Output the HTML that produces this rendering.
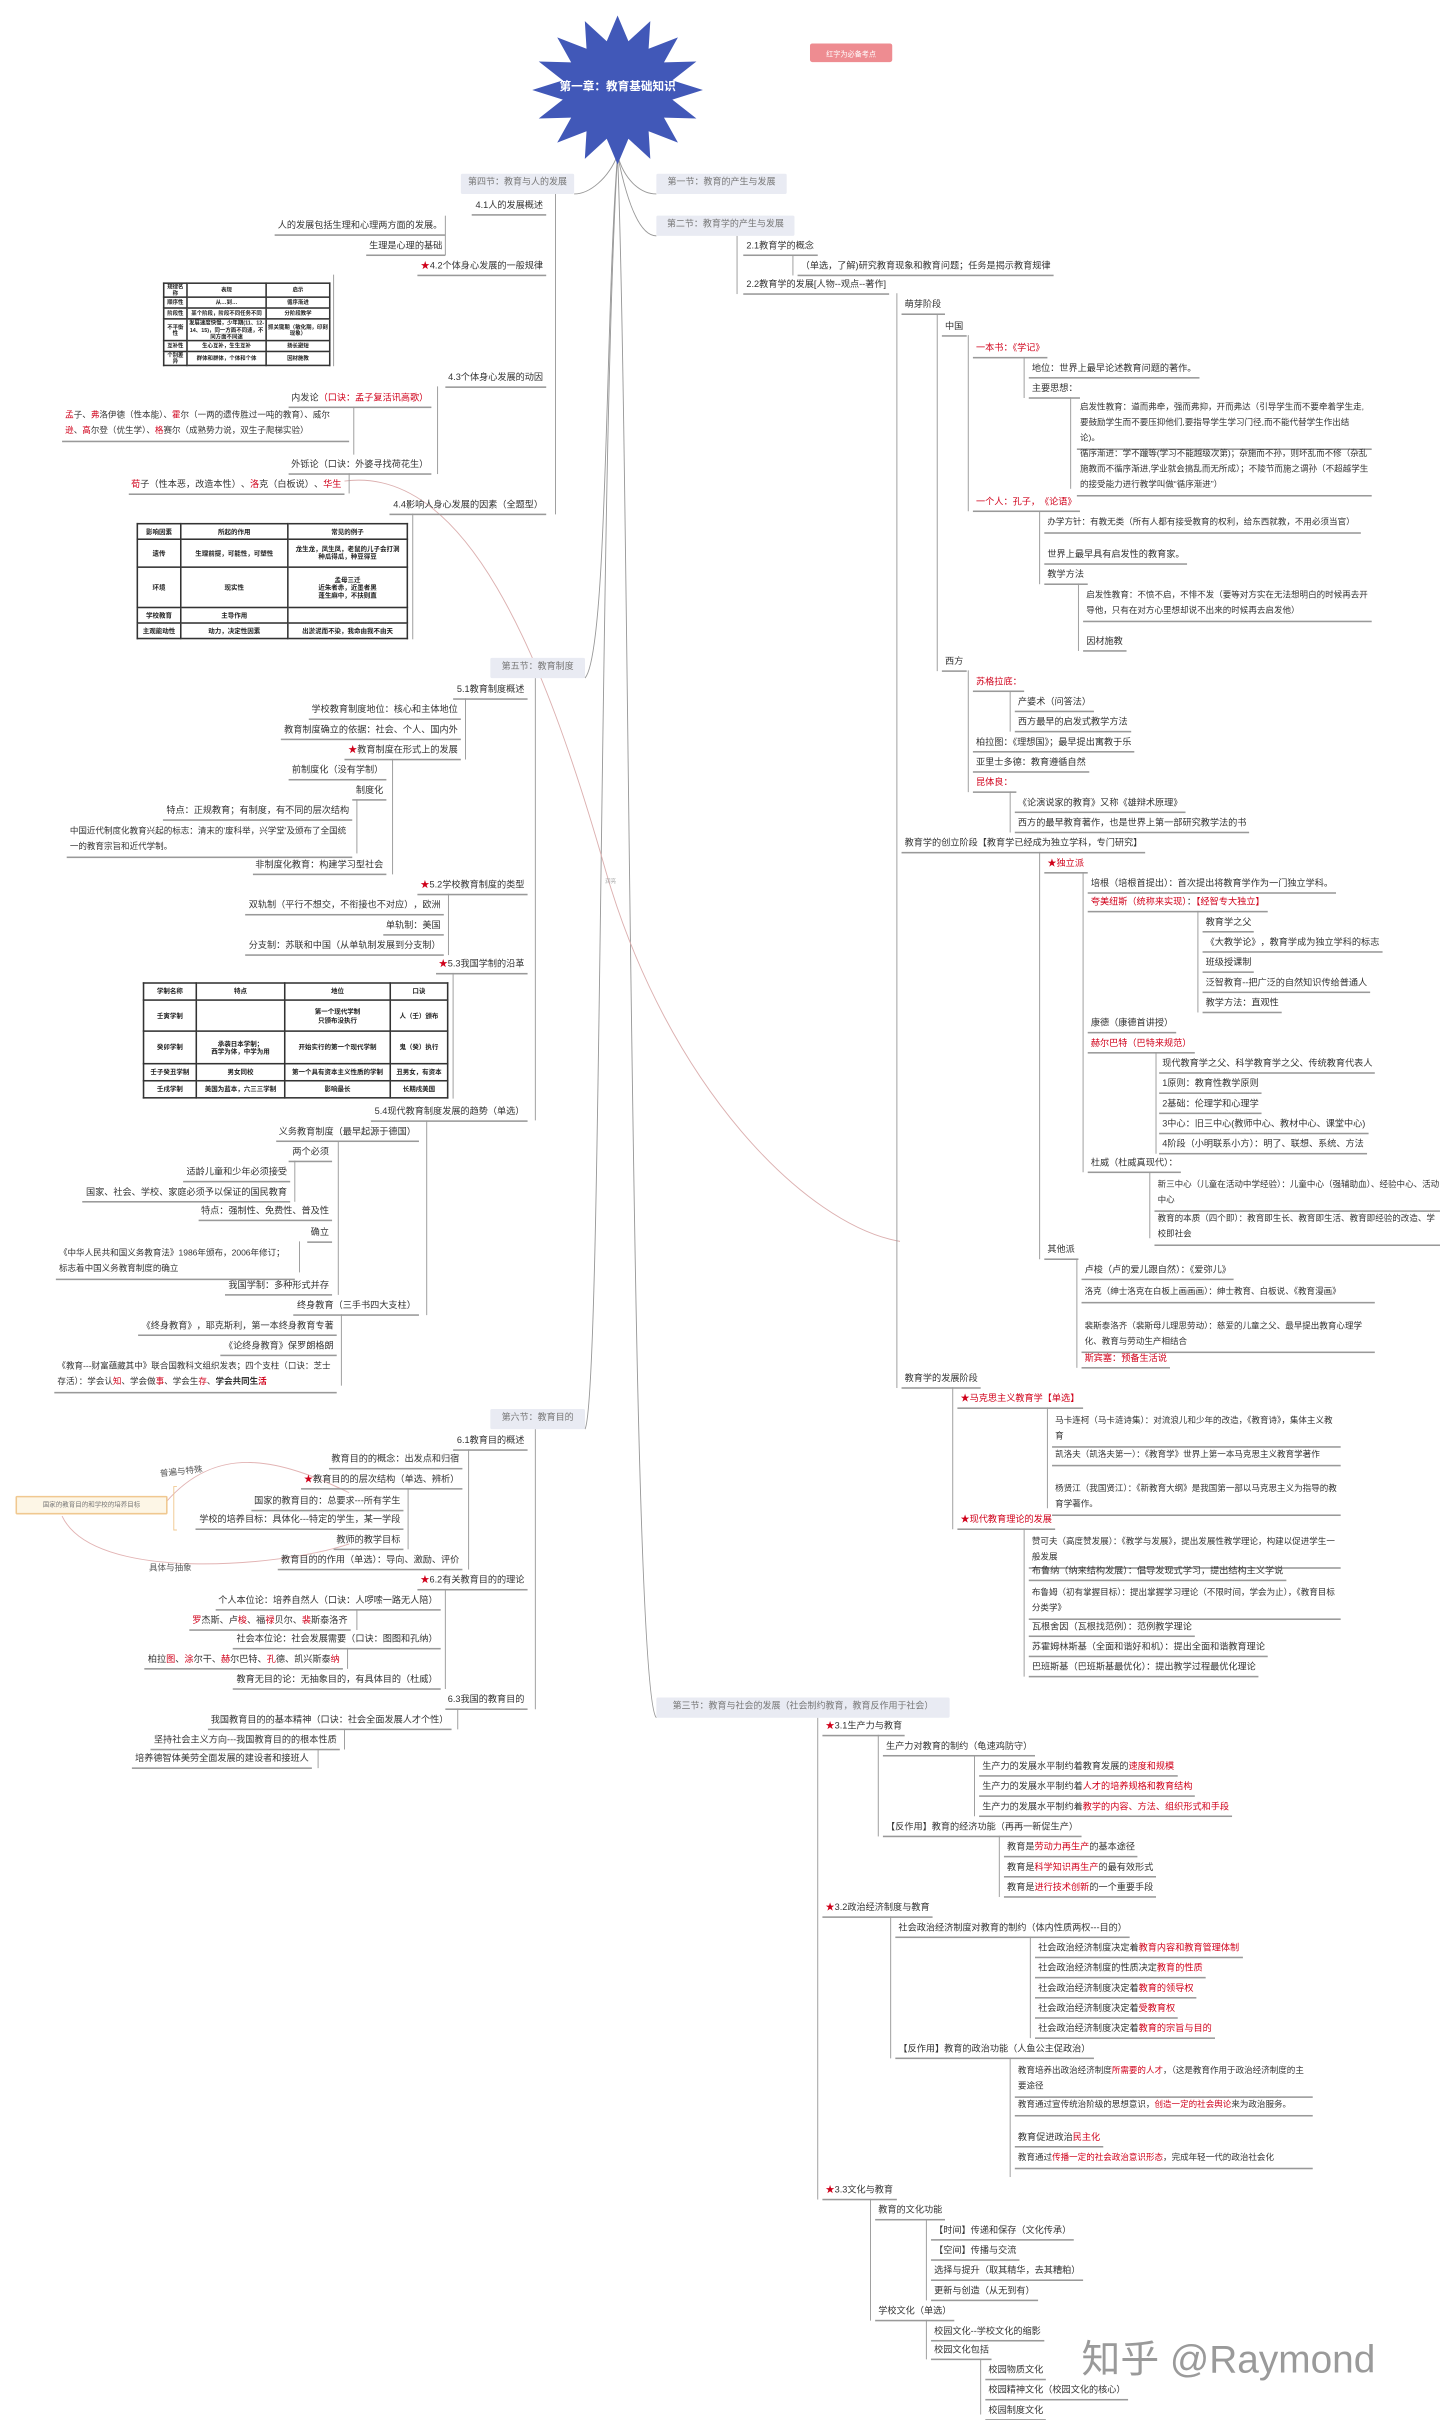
<!DOCTYPE html>
<html><head><meta charset="utf-8">
<style>
html,body{margin:0;padding:0;background:#fff;}
body{width:1440px;height:2414px;overflow:hidden;position:relative;}
#w{position:absolute;left:0;top:0;width:928px;height:1556px;transform:scale(1.5517);transform-origin:0 0;font-family:"Liberation Sans","Noto Sans CJK SC",sans-serif;color:#333;}
.n{position:absolute;white-space:nowrap;font-size:5.9px;line-height:8px;border-bottom:0.6px solid #999;padding:0 2px 0.5px 2px;}
.m{white-space:normal;line-height:10px;font-size:5.5px;}
.r{color:#d0021b;}
.s{color:#d0021b;}
.sec{position:absolute;background:#e9ebf3;color:#777;font-size:5.8px;line-height:13px;height:13px;text-align:center;border-radius:1px;}
table{position:absolute;border-collapse:collapse;font-size:4.2px;line-height:5.4px;color:#222;font-weight:bold;table-layout:fixed;}
td{border:0.6px solid #333;text-align:center;padding:0 1px;overflow:hidden;}
.t1{font-size:3.5px;line-height:4.2px;}
.t1 td{padding:0 0.5px;}
svg{position:absolute;left:0;top:0;}
</style></head><body><div id="w">
<svg width="928" height="1556" viewBox="0 0 928 1556">
<g fill="none" stroke="#999" stroke-width="0.6">
<path d="M398 100 C392 115 380 125 370 125"/>
<path d="M398 100 C402 115 412 125 423 125"/>
<path d="M398 100 C404 130 412 152 423 152"/>
<path d="M398 100 C390 200 392 420 377 437"/>
<path d="M398 100 C386 300 388 900 377 921"/>
<path d="M398 100 C406 300 406 1090 423 1107"/>
<path d="M222 310 C300 300 350 420 390 560 S 520 790 580 800" stroke="#dcb0b0"/>
<path d="M107 968 C140 930 180 940 225 962" stroke="#e2b3b3"/>
<path d="M40 977 C60 1020 180 1010 225 995" stroke="#e2b3b3"/>
<path d="M114 958 L112 958 L112 986 L114 986" stroke="#f0c890"/>
</g>
<g stroke="#999" stroke-width="0.6">
<line x1="358" y1="125" x2="358" y2="331.5"/><line x1="287" y1="139" x2="287" y2="164.5"/><line x1="215" y1="177" x2="215" y2="236"/><line x1="282" y1="249" x2="282" y2="305.5"/><line x1="228" y1="262" x2="228" y2="293"/><line x1="225" y1="305" x2="225" y2="318"/><line x1="266" y1="331" x2="266" y2="412"/>
<line x1="345" y1="437" x2="345" y2="722"/><line x1="300" y1="450" x2="300" y2="489.5"/><line x1="253" y1="489" x2="253" y2="563.5"/><line x1="230" y1="515" x2="230" y2="550"/><line x1="289" y1="576" x2="289" y2="615.5"/><line x1="292" y1="627" x2="292" y2="708"/><line x1="275" y1="722" x2="275" y2="847.5"/><line x1="218" y1="735" x2="218" y2="834.5"/><line x1="190" y1="748" x2="190" y2="774.5"/><line x1="193" y1="800" x2="193" y2="820"/><line x1="220" y1="847" x2="220" y2="893"/>
<line x1="345" y1="921" x2="345" y2="1101.5"/><line x1="302" y1="934" x2="302" y2="1011.5"/><line x1="263" y1="959" x2="263" y2="998.5"/><line x1="287" y1="1024" x2="287" y2="1088.5"/><line x1="230" y1="1037" x2="230" y2="1050.5"/><line x1="224" y1="1062" x2="224" y2="1075.5"/><line x1="295" y1="1101" x2="295" y2="1114.5"/><line x1="222" y1="1114" x2="222" y2="1127.5"/><line x1="205" y1="1127" x2="205" y2="1139.5"/>
<line x1="475" y1="152" x2="475" y2="189.5"/><line x1="511" y1="164" x2="511" y2="177.5"/><line x1="578" y1="189" x2="578" y2="894.5"/><line x1="604" y1="202" x2="604" y2="432.5"/><line x1="624" y1="216" x2="624" y2="329.5"/><line x1="660" y1="230" x2="660" y2="256.5"/><line x1="690" y1="256" x2="690" y2="315"/><line x1="670" y1="329" x2="670" y2="376.5"/><line x1="695" y1="376" x2="695" y2="419.5"/><line x1="624" y1="432" x2="624" y2="510.5"/><line x1="651" y1="445" x2="651" y2="471.5"/><line x1="651" y1="510" x2="651" y2="536.5"/><line x1="670" y1="549" x2="670" y2="811.5"/><line x1="698" y1="562" x2="698" y2="755.5"/><line x1="772" y1="587" x2="772" y2="652.5"/><line x1="745" y1="678" x2="745" y2="743.5"/><line x1="741" y1="755" x2="741" y2="798"/><line x1="694" y1="811" x2="694" y2="881.5"/><line x1="614" y1="894" x2="614" y2="985.5"/><line x1="675" y1="907" x2="675" y2="972"/><line x1="660" y1="985" x2="660" y2="1080.5"/>
<line x1="527" y1="1107" x2="527" y2="1417.5"/><line x1="566" y1="1118" x2="566" y2="1183.5"/><line x1="628" y1="1131" x2="628" y2="1170.5"/><line x1="644" y1="1183" x2="644" y2="1222.5"/><line x1="574" y1="1235" x2="574" y2="1326.5"/><line x1="664" y1="1248" x2="664" y2="1313.5"/><line x1="651" y1="1326" x2="651" y2="1403"/><line x1="561" y1="1417" x2="561" y2="1495.5"/><line x1="597" y1="1430" x2="597" y2="1482.5"/><line x1="597" y1="1495" x2="597" y2="1520.5"/><line x1="632" y1="1520" x2="632" y2="1559"/>
</g>
<polygon fill="#4158b8" points="453,58 433.3,64.2 448.8,76.4 427.9,75.8 436.9,91.9 418,84.6 419.1,102.4 405,89.4 398,106 391,89.4 376.9,102.4 378,84.6 359.1,91.9 368.1,75.8 347.2,76.4 362.7,64.2 343,58 362.7,51.8 347.2,39.6 368.1,40.2 359.1,24.1 378,31.4 376.9,13.6 391,26.6 398,10 405,26.6 419.1,13.6 418,31.4 436.9,24.1 427.9,40.2 448.8,39.6 433.3,51.8"/>
<text x="398" y="58" fill="#fff" font-size="7.5" font-weight="bold" text-anchor="middle" font-family="Liberation Sans, Noto Sans CJK SC, sans-serif">第一章：教育基础知识</text>
<rect x="522" y="28" width="53" height="12" rx="1.5" fill="#ee8c91"/>
<text x="548.5" y="36.3" fill="#fff" font-size="4.6" text-anchor="middle" font-family="Liberation Sans, Noto Sans CJK SC, sans-serif">红字为必备考点</text>
<text x="390" y="569" fill="#aaa" font-size="3.5" font-family="Liberation Sans, Noto Sans CJK SC, sans-serif">润亮</text>
</svg>

<div class="sec" style="left:297px;top:112px;width:73px">第四节：教育与人的发展</div>
<div class="sec" style="left:423px;top:112px;width:84px">第一节：教育的产生与发展</div>
<div class="sec" style="left:423px;top:139px;width:89px">第二节：教育学的产生与发展</div>
<div class="sec" style="left:316px;top:424px;width:61px">第五节：教育制度</div>
<div class="sec" style="left:316px;top:908px;width:61px">第六节：教育目的</div>
<div class="sec" style="left:423px;top:1094px;width:189px">第三节：教育与社会的发展（社会制约教育，教育反作用于社会）</div>

<!-- 第四节 -->
<div class="n" style="right:576px;top:129px">4.1人的发展概述</div>
<div class="n" style="right:641px;top:142px">人的发展包括生理和心理两方面的发展。</div>
<div class="n" style="right:641px;top:155px">生理是心理的基础</div>
<div class="n" style="right:576px;top:168px"><span class="s">★</span>4.2个体身心发展的一般规律</div>
<table class="t1" style="left:105px;top:182px;width:107px;height:54px">
<colgroup><col style="width:15px"><col style="width:51px"><col style="width:41px"></colgroup>
<tr style="height:7px"><td>规律名称</td><td>表现</td><td>启示</td></tr>
<tr style="height:7px"><td>顺序性</td><td>从…到…</td><td>循序渐进</td></tr>
<tr style="height:7px"><td>阶段性</td><td>某个阶段，阶段不同任务不同</td><td>分阶段教学</td></tr>
<tr style="height:12px"><td>不平衡性</td><td>发展速度快慢，少年期(11、12-14、15)，同一方面不同速，不同方面不同速</td><td>抓关键期（敏化期，印刻现象）</td></tr>
<tr style="height:7px"><td>互补性</td><td>生心互补，生生互补</td><td>扬长避短</td></tr>
<tr style="height:7px"><td>个别差异</td><td>群体和群体，个体和个体</td><td>因材施教</td></tr>
</table>
<div class="n" style="right:576px;top:240px">4.3个体身心发展的动因</div>
<div class="n" style="right:650px;top:253px">内发论<span class="r">（口诀：孟子复活讯高歌）</span></div>
<div class="n m" style="right:703px;top:263px;width:181px"><span class="r">孟</span>子、<span class="r">弗</span>洛伊德（性本能）、<span class="r">霍</span>尔（一两的遗传胜过一吨的教育）、威尔<span class="r">逊</span>、<span class="r">高</span>尔登（优生学）、<span class="r">格</span>赛尔（成熟势力说，双生子爬梯实验）</div>
<div class="n" style="right:650px;top:296px">外铄论（口诀：外婆寻找荷花生）</div>
<div class="n" style="right:706px;top:309px"><span class="r">荀</span>子（性本恶，改造本性）、<span class="r">洛</span>克（白板说）、<span class="r">华生</span></div>
<div class="n" style="right:576px;top:322px">4.4影响人身心发展的因素（全题型）</div>
<table style="left:88px;top:337px;width:174px;height:75px">
<colgroup><col style="width:28px"><col style="width:69px"><col style="width:77px"></colgroup>
<tr><td>影响因素</td><td>所起的作用</td><td>常见的例子</td></tr>
<tr><td>遗传</td><td>生理前提，可能性，可塑性</td><td>龙生龙，凤生凤，老鼠的儿子会打洞<br>种瓜得瓜，种豆得豆</td></tr>
<tr><td>环境</td><td>现实性</td><td>孟母三迁<br>近朱者赤，近墨者黑<br>蓬生麻中，不扶则直</td></tr>
<tr><td>学校教育</td><td>主导作用</td><td></td></tr>
<tr><td>主观能动性</td><td>动力，决定性因素</td><td>出淤泥而不染，我命由我不由天</td></tr>
</table>

<!-- 第五节 -->
<div class="n" style="right:588px;top:441px">5.1教育制度概述</div>
<div class="n" style="right:631px;top:454px">学校教育制度地位：核心和主体地位</div>
<div class="n" style="right:631px;top:467px">教育制度确立的依据：社会、个人、国内外</div>
<div class="n" style="right:631px;top:480px"><span class="s">★</span>教育制度在形式上的发展</div>
<div class="n" style="right:679px;top:493px">前制度化（没有学制）</div>
<div class="n" style="right:679px;top:506px">制度化</div>
<div class="n" style="right:701px;top:519px">特点：正规教育；有制度，有不同的层次结构</div>
<div class="n m" style="right:701px;top:531px;width:180px">中国近代制度化教育兴起的标志：清末的'废科举，兴学堂'及颁布了全国统一的教育宗旨和近代学制。</div>
<div class="n" style="right:679px;top:554px">非制度化教育：构建学习型社会</div>
<div class="n" style="right:588px;top:567px"><span class="s">★</span>5.2学校教育制度的类型</div>
<div class="n" style="right:642px;top:580px">双轨制（平行不想交，不衔接也不对应），欧洲</div>
<div class="n" style="right:642px;top:593px">单轨制：美国</div>
<div class="n" style="right:642px;top:606px">分支制：苏联和中国（从单轨制发展到分支制）</div>
<div class="n" style="right:588px;top:618px"><span class="s">★</span>5.3我国学制的沿革</div>
<table style="left:92px;top:633px;width:196px;height:75px">
<colgroup><col style="width:34px"><col style="width:57px"><col style="width:68px"><col style="width:37px"></colgroup>
<tr><td>学制名称</td><td>特点</td><td>地位</td><td>口诀</td></tr>
<tr><td>壬寅学制</td><td></td><td>第一个现代学制<br>只颁布没执行</td><td>人（壬）颁布</td></tr>
<tr><td>癸卯学制</td><td>承袭日本学制；<br>西学为体，中学为用</td><td>开始实行的第一个现代学制</td><td>鬼（癸）执行</td></tr>
<tr><td>壬子癸丑学制</td><td>男女同校</td><td>第一个具有资本主义性质的学制</td><td>丑男女，有资本</td></tr>
<tr><td>壬戌学制</td><td>美国为蓝本，六三三学制</td><td>影响最长</td><td>长期戌美国</td></tr>
</table>
<div class="n" style="right:588px;top:713px">5.4现代教育制度发展的趋势（单选）</div>
<div class="n" style="right:658px;top:726px">义务教育制度（最早起源于德国）</div>
<div class="n" style="right:714px;top:739px">两个必须</div>
<div class="n" style="right:741px;top:752px">适龄儿童和少年必须接受</div>
<div class="n" style="right:741px;top:765px">国家、社会、学校、家庭必须予以保证的国民教育</div>
<div class="n" style="right:714px;top:777px">特点：强制性、免费性、普及性</div>
<div class="n" style="right:714px;top:791px">确立</div>
<div class="n m" style="right:738px;top:803px;width:150px">《中华人民共和国义务教育法》1986年颁布，2006年修订；标志着中国义务教育制度的确立</div>
<div class="n" style="right:714px;top:825px">我国学制：多种形式并存</div>
<div class="n" style="right:658px;top:838px">终身教育（三手书四大支柱）</div>
<div class="n" style="right:711px;top:851px">《终身教育》，耶克斯利，第一本终身教育专著</div>
<div class="n" style="right:711px;top:864px">《论终身教育》保罗朗格朗</div>
<div class="n m" style="right:711px;top:876px;width:178px">《教育---财富蕴藏其中》联合国教科文组织发表；四个支柱（口诀：芝士存活）：学会认<span class="r">知</span>、学会做<span class="r">事</span>、学会生<span class="r">存</span>、<b>学会共同生<span class="r">活</span></b></div>

<!-- 第六节 -->
<div class="n" style="right:588px;top:925px">6.1教育目的概述</div>
<div class="n" style="right:630px;top:937px">教育目的的概念：出发点和归宿</div>
<div class="n" style="right:630px;top:950px"><span class="s">★</span>教育目的的层次结构（单选、辨析）</div>
<div class="n" style="right:668px;top:964px">国家的教育目的：总要求---所有学生</div>
<div class="n" style="right:668px;top:976px">学校的培养目标：具体化---特定的学生，某一学段</div>
<div class="n" style="right:668px;top:989px">教师的教学目标</div>
<div class="n" style="right:630px;top:1002px">教育目的的作用（单选）：导向、激励、评价</div>
<div style="position:absolute;left:103px;top:944px;font-size:5.5px;transform:rotate(-6deg);color:#555">普遍与特殊</div>
<div style="position:absolute;left:96px;top:1006px;font-size:5.5px;color:#555">具体与抽象</div>
<div style="position:absolute;left:10px;top:964px;width:96px;height:10px;border:0.6px solid #f0c890;background:#fdf6e6;font-size:4.2px;line-height:10px;text-align:center;color:#777;border-radius:1px">国家的教育目的和学校的培养目标</div>
<div class="n" style="right:588px;top:1015px"><span class="s">★</span>6.2有关教育目的的理论</div>
<div class="n" style="right:644px;top:1028px">个人本位论：培养自然人（口诀：人啰嗦一路无人陪）</div>
<div class="n" style="right:702px;top:1041px"><span class="r">罗</span>杰斯、卢<span class="r">梭</span>、福<span class="r">禄</span>贝尔、<span class="r">裴</span>斯泰洛齐</div>
<div class="n" style="right:644px;top:1053px">社会本位论：社会发展需要（口诀：图图和孔纳）</div>
<div class="n" style="right:707px;top:1066px">柏拉<span class="r">图</span>、<span class="r">涂</span>尔干、<span class="r">赫</span>尔巴特、<span class="r">孔</span>德、凯兴斯泰<span class="r">纳</span></div>
<div class="n" style="right:644px;top:1079px">教育无目的论：无抽象目的，有具体目的（杜威）</div>
<div class="n" style="right:588px;top:1092px">6.3我国的教育目的</div>
<div class="n" style="right:637px;top:1105px">我国教育目的的基本精神（口诀：社会全面发展人才个性）</div>
<div class="n" style="right:709px;top:1118px">坚持社会主义方向---我国教育目的的根本性质</div>
<div class="n" style="right:727px;top:1130px">培养德智体美劳全面发展的建设者和接班人</div>

<!-- 第二节 -->
<div class="n" style="left:479px;top:155px">2.1教育学的概念</div>
<div class="n" style="left:514px;top:168px">（单选，了解)研究教育现象和教育问题；任务是揭示教育规律</div>
<div class="n" style="left:479px;top:180px">2.2教育学的发展[人物--观点--著作]</div>
<div class="n" style="left:581px;top:193px">萌芽阶段</div>
<div class="n" style="left:607px;top:207px">中国</div>
<div class="n r" style="left:627px;top:221px">一本书：《学记》</div>
<div class="n" style="left:663px;top:234px">地位：世界上最早论述教育问题的著作。</div>
<div class="n" style="left:663px;top:247px">主要思想：</div>
<div class="n m" style="left:694px;top:258px;width:186px">启发性教育：道而弗牵，强而弗抑，开而弗达（引导学生而不要牵着学生走,要鼓励学生而不要压抑他们,要指导学生学习门径,而不能代替学生作出结论)。</div>
<div class="n m" style="left:694px;top:288px;width:186px">循序渐进：学不躐等(学习不能越级次第)；杂施而不孙，则坏乱而不修（杂乱施教而不循序渐进,学业就会搞乱而无所成）；不陵节而施之谓孙（不超越学生的接受能力进行教学叫做“循序渐进”）</div>
<div class="n r" style="left:627px;top:320px">一个人：孔子，《论语》</div>
<div class="n m" style="left:673px;top:332px;width:200px">办学方针：有教无类（所有人都有接受教育的权利，给东西就教，不用必须当官）</div>
<div class="n" style="left:673px;top:354px">世界上最早具有启发性的教育家。</div>
<div class="n" style="left:673px;top:367px">教学方法</div>
<div class="n m" style="left:698px;top:379px;width:182px">启发性教育：不愤不启，不悱不发（要等对方实在无法想明白的时候再去开导他，只有在对方心里想却说不出来的时候再去启发他）</div>
<div class="n" style="left:698px;top:410px">因材施教</div>
<div class="n" style="left:607px;top:423px">西方</div>
<div class="n r" style="left:627px;top:436px">苏格拉底：</div>
<div class="n" style="left:654px;top:449px">产婆术（问答法）</div>
<div class="n" style="left:654px;top:462px">西方最早的启发式教学方法</div>
<div class="n" style="left:627px;top:475px">柏拉图：《理想国》；最早提出寓教于乐</div>
<div class="n" style="left:627px;top:488px">亚里士多德：教育遵循自然</div>
<div class="n r" style="left:627px;top:501px">昆体良：</div>
<div class="n" style="left:654px;top:514px">《论演说家的教育》又称《雄辩术原理》</div>
<div class="n" style="left:654px;top:527px">西方的最早教育著作，也是世界上第一部研究教学法的书</div>
<div class="n" style="left:581px;top:540px">教育学的创立阶段【教育学已经成为独立学科，专门研究】</div>
<div class="n r" style="left:673px;top:553px">★独立派</div>
<div class="n" style="left:701px;top:566px">培根（培根首提出）：首次提出将教育学作为一门独立学科。</div>
<div class="n" style="left:701px;top:578px"><span class="r">夸美纽斯（统称来实现）</span>：<span class="r">【经智专大独立】</span></div>
<div class="n" style="left:775px;top:591px">教育学之父</div>
<div class="n" style="left:775px;top:604px">《大教学论》，教育学成为独立学科的标志</div>
<div class="n" style="left:775px;top:617px">班级授课制</div>
<div class="n" style="left:775px;top:630px">泛智教育--把广泛的自然知识传给普通人</div>
<div class="n" style="left:775px;top:643px">教学方法：直观性</div>
<div class="n" style="left:701px;top:656px">康德（康德首讲授）</div>
<div class="n r" style="left:701px;top:669px">赫尔巴特（巴特来规范）</div>
<div class="n" style="left:747px;top:682px">现代教育学之父、科学教育学之父、传统教育代表人</div>
<div class="n" style="left:747px;top:695px">1原则：教育性教学原则</div>
<div class="n" style="left:747px;top:708px">2基础：伦理学和心理学</div>
<div class="n" style="left:747px;top:721px">3中心：旧三中心(教师中心、教材中心、课堂中心)</div>
<div class="n" style="left:747px;top:734px">4阶段（小明联系小方）：明了、联想、系统、方法</div>
<div class="n" style="left:701px;top:746px">杜威（杜威真现代）：</div>
<div class="n m" style="left:744px;top:759px;width:182px">新三中心（儿童在活动中学经验）：儿童中心（强辅助血）、经验中心、活动中心</div>
<div class="n m" style="left:744px;top:781px;width:182px">教育的本质（四个即）：教育即生长、教育即生活、教育即经验的改造、学校即社会</div>
<div class="n" style="left:673px;top:802px">其他派</div>
<div class="n" style="left:697px;top:815px">卢梭（卢的爱儿跟自然）：《爱弥儿》</div>
<div class="n m" style="left:697px;top:828px;width:185px">洛克（绅士洛克在白板上画画画）：绅士教育、白板说、《教育漫画》</div>
<div class="n m" style="left:697px;top:850px;width:185px">裴斯泰洛齐（裴斯母儿理思劳动）：慈爱的儿童之父、最早提出教育心理学化、教育与劳动生产相结合</div>
<div class="n r" style="left:697px;top:872px">斯宾塞：预备生活说</div>
<div class="n" style="left:581px;top:885px">教育学的发展阶段</div>
<div class="n r" style="left:617px;top:898px">★马克思主义教育学【单选】</div>
<div class="n m" style="left:678px;top:911px;width:182px">马卡连柯（马卡涟诗集）：对流浪儿和少年的改造，《教育诗》，集体主义教育</div>
<div class="n m" style="left:678px;top:933px;width:182px">凯洛夫（凯洛夫第一）：《教育学》世界上第一本马克思主义教育学著作</div>
<div class="n m" style="left:678px;top:955px;width:182px">杨贤江（我国贤江）：《新教育大纲》是我国第一部以马克思主义为指导的教育学著作。</div>
<div class="n r" style="left:617px;top:976px">★现代教育理论的发展</div>
<div class="n m" style="left:663px;top:989px;width:197px">赞可夫（高度赞发展）：《教学与发展》，提出发展性教学理论，构建以促进学生一般发展</div>
<div class="n" style="left:663px;top:1009px">布鲁纳（纳来结构发展）：倡导发现式学习，提出结构主义学说</div>
<div class="n m" style="left:663px;top:1022px;width:197px">布鲁姆（初有掌握目标）：提出掌握学习理论（不限时间，学会为止），《教育目标分类学》</div>
<div class="n" style="left:663px;top:1045px">瓦根舍因（瓦根找范例）：范例教学理论</div>
<div class="n" style="left:663px;top:1058px">苏霍姆林斯基（全面和谐好和机）：提出全面和谐教育理论</div>
<div class="n" style="left:663px;top:1071px">巴班斯基（巴班斯基最优化）：提出教学过程最优化理论</div>

<!-- 第三节 -->
<div class="n" style="left:530px;top:1109px"><span class="s">★</span>3.1生产力与教育</div>
<div class="n" style="left:569px;top:1122px">生产力对教育的制约（龟速鸡防守）</div>
<div class="n" style="left:631px;top:1135px">生产力的发展水平制约着教育发展的<span class="r">速度和规模</span></div>
<div class="n" style="left:631px;top:1148px">生产力的发展水平制约着<span class="r">人才的培养规格和教育结构</span></div>
<div class="n" style="left:631px;top:1161px">生产力的发展水平制约着<span class="r">教学的内容、方法、组织形式和手段</span></div>
<div class="n" style="left:569px;top:1174px">【反作用】教育的经济功能（再再一新促生产）</div>
<div class="n" style="left:647px;top:1187px">教育是<span class="r">劳动力再生产</span>的基本途径</div>
<div class="n" style="left:647px;top:1200px">教育是<span class="r">科学知识再生产</span>的最有效形式</div>
<div class="n" style="left:647px;top:1213px">教育是<span class="r">进行技术创新</span>的一个重要手段</div>
<div class="n" style="left:530px;top:1226px"><span class="s">★</span>3.2政治经济制度与教育</div>
<div class="n" style="left:577px;top:1239px">社会政治经济制度对教育的制约（体内性质两权---目的）</div>
<div class="n" style="left:667px;top:1252px">社会政治经济制度决定着<span class="r">教育内容和教育管理体制</span></div>
<div class="n" style="left:667px;top:1265px">社会政治经济制度的性质决定<span class="r">教育的性质</span></div>
<div class="n" style="left:667px;top:1278px">社会政治经济制度决定着<span class="r">教育的领导权</span></div>
<div class="n" style="left:667px;top:1291px">社会政治经济制度决定着<span class="r">受教育权</span></div>
<div class="n" style="left:667px;top:1304px">社会政治经济制度决定着<span class="r">教育的宗旨与目的</span></div>
<div class="n" style="left:577px;top:1317px">【反作用】教育的政治功能（人鱼公主促政治）</div>
<div class="n m" style="left:654px;top:1330px;width:188px">教育培养出政治经济制度<span class="r">所需要的人才</span>，（这是教育作用于政治经济制度的主要途径</div>
<div class="n m" style="left:654px;top:1352px;width:188px">教育通过宣传统治阶级的思想意识，<span class="r">创造一定的社会舆论</span>来为政治服务。</div>
<div class="n" style="left:654px;top:1374px">教育促进政治<span class="r">民主化</span></div>
<div class="n m" style="left:654px;top:1386px;width:188px">教育通过<span class="r">传播一定的社会政治意识形态</span>，完成年轻一代的政治社会化</div>
<div class="n" style="left:530px;top:1408px"><span class="s">★</span>3.3文化与教育</div>
<div class="n" style="left:564px;top:1421px">教育的文化功能</div>
<div class="n" style="left:600px;top:1434px">【时间】传递和保存（文化传承）</div>
<div class="n" style="left:600px;top:1447px">【空间】传播与交流</div>
<div class="n" style="left:600px;top:1460px">选择与提升（取其精华，去其糟粕）</div>
<div class="n" style="left:600px;top:1473px">更新与创造（从无到有）</div>
<div class="n" style="left:564px;top:1486px">学校文化（单选）</div>
<div class="n" style="left:600px;top:1499px">校园文化--学校文化的缩影</div>
<div class="n" style="left:600px;top:1511px">校园文化包括</div>
<div class="n" style="left:635px;top:1524px">校园物质文化</div>
<div class="n" style="left:635px;top:1537px">校园精神文化（校园文化的核心）</div>
<div class="n" style="left:635px;top:1550px">校园制度文化</div>

<div style="position:absolute;left:697px;top:1506px;font-size:25px;line-height:30px;color:#9a9a9a;white-space:nowrap">知乎 @Raymond</div>
</div></body></html>
